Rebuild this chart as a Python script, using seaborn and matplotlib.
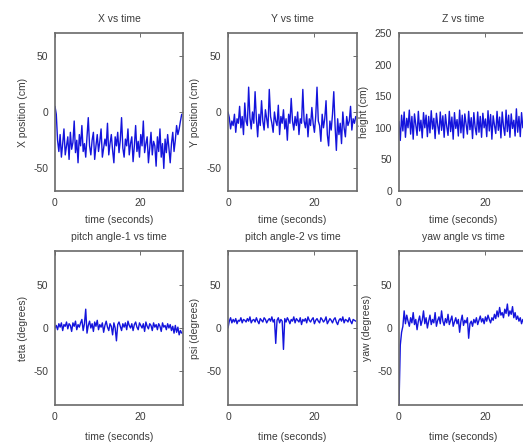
import numpy as np
import pandas as pd
import matplotlib
matplotlib.use("Agg")
import matplotlib.pyplot as plt
import seaborn as sns

time_s = [round(i * 0.3, 1) for i in range(100)]

x_pos = [5, -2, -25, -35, -20, -40, -28, -15, -38, -30, -22, -42, -18, -33, -27, -8, -36, -25, -45, -20,
         -30, -12, -35, -28, -40, -22, -5, -30, -38, -25, -18, -42, -30, -20, -35, -26, -15, -40, -32, -24,
         -30, -10, -38, -28, -20, -34, -45, -22, -30, -18, -36, -25, -5, -32, -40, -24, -30, -15, -38, -28,
         -22, -44, -30, -12, -35, -26, -40, -20, -30, -8, -36, -28, -22, -45, -32, -18, -38, -26, -30, -48,
         -22, -35, -15, -40, -28, -50, -24, -36, -20, -32, -45, -28, -18, -35, -25, -12, -20, -15, -8, -2]

y_pos = [0, -5, -15, -8, -12, -2, -18, -6, -10, 5, -14, -4, -20, 8, -8, -12, 22, -5, -15, 0,
         -10, 18, -6, -22, -2, -12, 10, -8, -16, 2, -6, -14, 20, -4, -10, -18, 0, -8, -12, 6,
         -20, -4, -10, 2, -15, -6, -25, -2, -10, 12, -8, -16, -4, -12, 0, -20, -6, -10, 20, -8,
         -14, -2, -22, -6, -12, 4, -10, -18, -4, 22, -8, -12, -26, -2, -14, -6, 10, -20, -30, -8,
         -16, -2, 18, -12, -34, -6, -20, -10, -28, 0, -14, -22, -4, -12, -8, 5, -16, -6, -10, -4]

height = [110, 80, 120, 95, 125, 85, 115, 100, 128, 90, 118, 82, 122, 105, 88, 126, 95, 112, 84, 124,
          100, 120, 86, 118, 92, 127, 98, 115, 83, 123, 104, 90, 125, 96, 119, 85, 121, 102, 88, 126,
          94, 117, 82, 124, 99, 113, 87, 128, 92, 120, 84, 122, 106, 90, 126, 97, 116, 83, 124, 101,
          89, 125, 93, 118, 85, 123, 100, 114, 86, 127, 95, 121, 82, 119, 104, 91, 126, 96, 117, 84,
          125, 102, 88, 128, 94, 120, 85, 122, 99, 112, 87, 130, 93, 118, 86, 124, 100, 115, 89, 126]

teta = [0, 3, -2, 5, 1, 6, -3, 4, 2, 7, -1, 5, 3, -4, 6, 2, 8, -2, 4, 1,
        6, 10, -3, 5, 22, -6, 3, 8, 0, 5, -4, 7, 2, 9, -2, 4, 1, 6, -5, 3,
        8, 1, -3, 5, 2, -8, 6, 0, -15, 4, 7, 2, -3, 5, 1, 6, -2, 8, 3, 0,
        5, -3, 4, 7, 1, -2, 6, 3, 0, 5, -4, 7, 2, -1, 5, 3, -3, 6, 1, 4,
        -2, 5, 2, -4, 6, 1, 3, -2, 5, 0, 4, -3, 2, -6, 3, -5, 1, -8, -3, -6]

psi = [0, 8, 12, 6, 10, 7, 11, 5, 9, 8, 12, 6, 10, 9, 7, 11, 8, 13, 6, 9,
       10, 7, 12, 8, 5, 11, 9, 7, 12, 10, 6, 9, 11, 8, 13, 7, 10, -18, 9, 12,
       6, 10, 8, -25, 11, 7, 12, 9, 5, 10, 8, 13, 6, 11, 9, 7, 12, 4, 10, 8,
       11, 6, 13, 9, 7, 10, 12, 5, 9, 11, 8, 6, 12, 10, 7, 9, 13, 5, 8, 11,
       9, 6, 10, 12, 7, 4, 9, 11, 8, 13, 6, 10, 9, 7, 12, 8, 5, 10, 9, 8]

yaw = [-90, -20, -5, 2, 20, 5, 15, 8, 2, 12, 6, 18, 4, 10, -2, 8, 14, 3, 9, 20,
       5, 12, 0, 8, 15, 4, 10, 6, 18, 2, 9, 13, 5, 20, 8, 3, 11, 6, 16, 4,
       9, 14, 2, 7, 12, 5, 10, -5, 8, 15, 3, 9, 6, 12, -12, 5, 8, 2, 10, 6,
       12, 4, 9, 14, 7, 11, 5, 13, 8, 15, 10, 6, 12, 9, 16, 11, 20, 13, 24, 15,
       18, 12, 22, 17, 28, 14, 20, 16, 25, 12, 18, 10, 14, 8, 12, 5, 10, 6, 9, 4]

titles = ["X vs time", "Y vs time", "Z vs time",
          "pitch angle-1 vs time", "pitch angle-2 vs time", "yaw angle vs time"]
ylabels = ["X position (cm)", "Y position (cm)", "height (cm)",
           "teta (degrees)", "psi (degrees)", "yaw (degrees)"]
series = [x_pos, y_pos, height, teta, psi, yaw]
ylims = [(-70, 70), (-70, 70), (0, 250), (-90, 90), (-90, 90), (-90, 90)]
yticks = [[-50, 0, 50], [-50, 0, 50], [0, 50, 100, 150, 200, 250],
          [-50, 0, 50], [-50, 0, 50], [-50, 0, 50]]
xticks = [0, 20]

sns.set_theme(style="white")
plt.rcParams["font.family"] = ["Liberation Sans", "DejaVu Sans"]
plt.rcParams["axes.unicode_minus"] = False

W, H = 523, 446
fig = plt.figure(figsize=(W / 100, H / 100), dpi=100)

cols = [(55, 128), (228, 129), (399, 129)]
rows = [(33, 191), (251, 405)]

txt = "#3c3c3c"
for i in range(6):
    r, c = divmod(i, 3)
    l, w = cols[c]
    t, b = rows[r]
    ax = fig.add_axes([l / W, (H - b) / H, w / W, (b - t) / H])
    df = pd.DataFrame({"time": time_s, "val": series[i]})
    sns.lineplot(data=df, x="time", y="val", ax=ax, color="#1414dc", linewidth=1.0)
    ax.set_xlim(0, 30)
    ax.set_ylim(*ylims[i])
    ax.set_yticks(yticks[i])
    ax.set_xticks(xticks)
    ax.tick_params(direction="in", length=3, width=0.6, labelsize=7.5,
                   colors="#555555", labelcolor=txt, top=True, right=True,
                   pad=5)
    for s in ax.spines.values():
        s.set_color("#6a6a6a")
        s.set_linewidth(1.2)
    ax.set_title(titles[i], fontsize=7.5, color=txt, pad=8)
    ax.set_ylabel(ylabels[i], fontsize=7.5, color=txt, labelpad=4)
    ax.set_xlabel("time (seconds)", fontsize=7.5, color=txt,
                  labelpad=5 if r == 0 else 7)

fig.savefig("out.png", dpi=100)
